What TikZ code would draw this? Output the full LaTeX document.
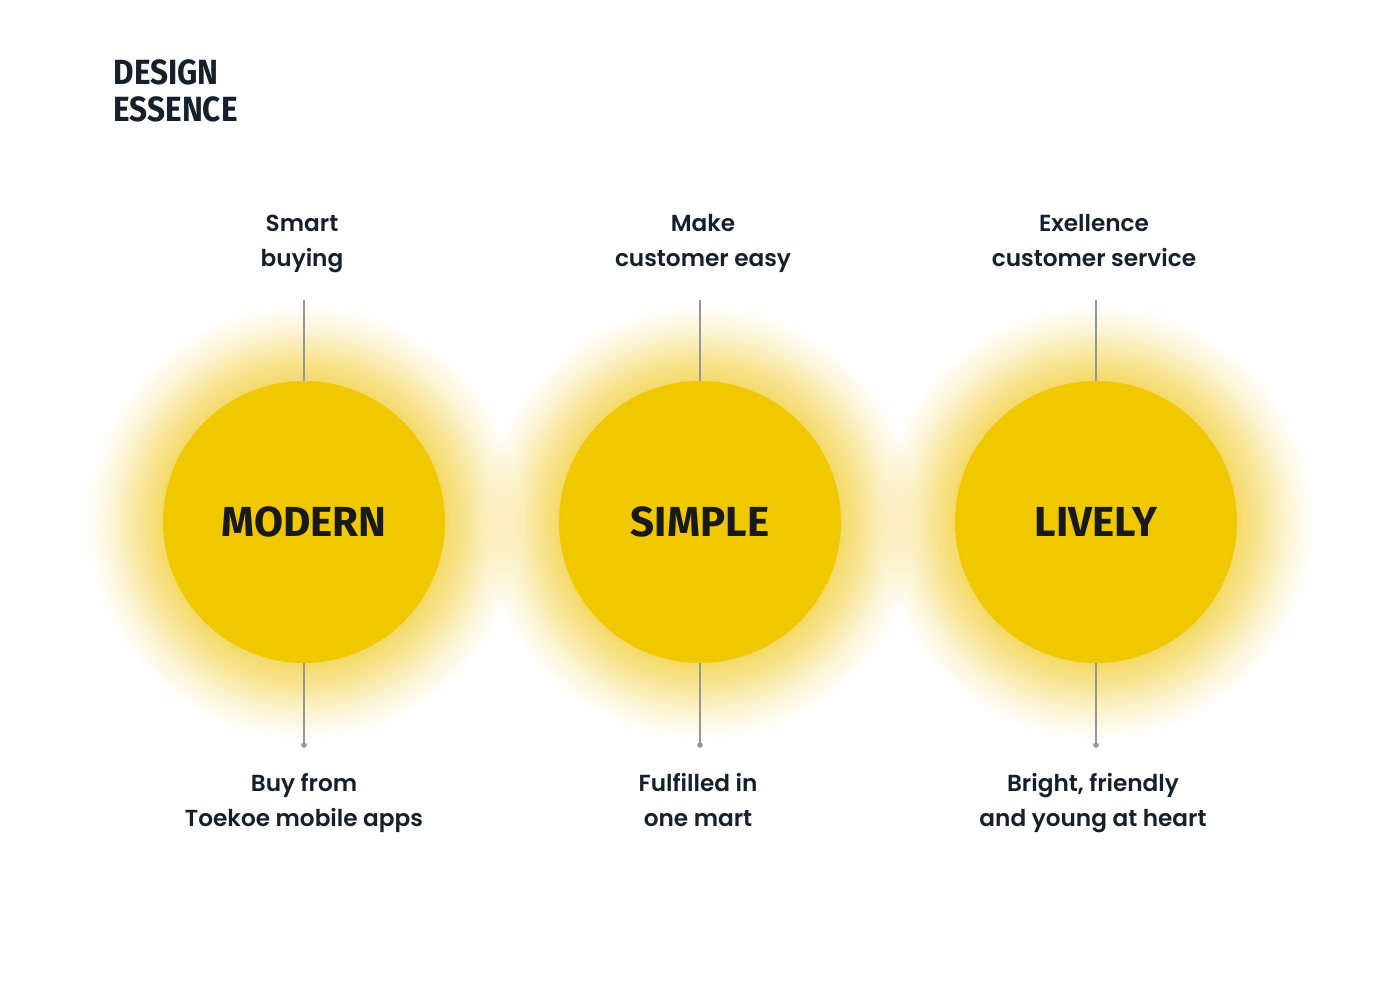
\documentclass[tikz,border=0pt]{standalone}
\usepackage{fontspec}
\newfontfamily\lblfont{Poppins SemiBold}
\newfontfamily\headfont{Fira Sans Bold}[FakeStretch=0.9]
\newfontfamily\discfont{Fira Sans Bold}
\definecolor{ink}{RGB}{22,32,42}
\definecolor{sunyel}{RGB}{239,200,0}
\definecolor{glowc}{RGB}{245,218,105}
\definecolor{stem}{RGB}{150,150,150}
% the path edge sits at 25bp of the shading
\pgfdeclareradialshading{glow}{\pgfpoint{0bp}{0bp}}{%
  color(0bp)=(glowc);color(16.2bp)=(glowc);color(19bp)=(glowc!68!white);%
  color(22bp)=(glowc!28!white);color(25bp)=(white);color(50bp)=(white)}
\tikzset{
  sun/.style={circle, fill=sunyel, minimum size=282, inner sep=0,
    font=\discfont\fontsize{42}{42}\selectfont, text=black!90},
  halo/.style={shading=glow},
  stemline/.style={draw=stem, line width=1.6},
  stemdot/.style={fill=stem},
  caption/.style={align=center, anchor=base, text=ink,
    font=\lblfont\fontsize{23.2}{35}\selectfont},
  heading/.style={align=left, anchor=base west, text=ink,
    font=\headfont\fontsize{35}{36}\selectfont},
}
\begin{document}
\begin{tikzpicture}[x=1pt,y=-1pt]
\useasboundingbox[fill=white] (0,0) rectangle (1400,990);

% soft halos behind the three discs
\begin{scope}[blend mode=multiply]
  \shade[halo] (304,522) circle (218);
  \shade[halo] (700,522) circle (218);
  \shade[halo] (1096,522) circle (218);
\end{scope}

% title (anchored on the baseline of its last line)
\node[heading] (title) at (110,121) {DESIGN\\ESSENCE};

% discs
\node[sun] (m) at (304,522) {MODERN};
\node[sun] (s) at (700,522) {SIMPLE};
\node[sun] (l) at (1096,522) {LIVELY};

% stem end points
\coordinate (mt) at (304,300);
\coordinate (st) at (700,300);
\coordinate (lt) at (1096,300);
\coordinate (mb) at (304,745);
\coordinate (sb) at (700,745);
\coordinate (lb) at (1096,745);

\foreach \d in {m,s,l}{
  \draw[stemline] (\d t) -- (\d.north);
  \draw[stemline] (\d.south) -- (\d b);
  \fill[stemdot] (\d b) circle (2.8);
}

% captions above
\node[caption] (mcap) at (302,266) {Smart\\buying};
\node[caption] (scap) at (703,266) {Make\\customer easy};
\node[caption] (lcap) at (1094,266) {Exellence\\customer service};

% captions below
\node[caption] (mtxt) at (304,826) {Buy from\\Toekoe mobile apps};
\node[caption] (stxt) at (698,826) {Fulfilled in\\one mart};
\node[caption] (ltxt) at (1093,826) {Bright, friendly\\and young at heart};
\end{tikzpicture}
\end{document}
